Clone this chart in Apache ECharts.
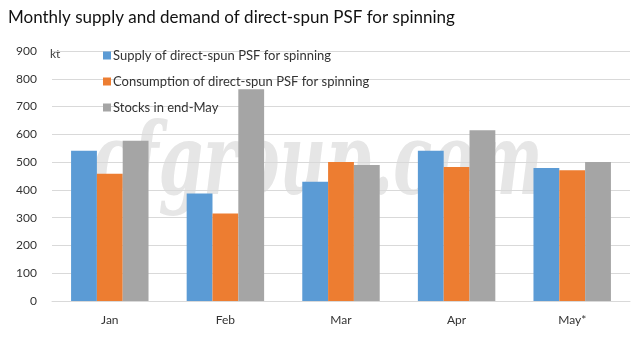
<!DOCTYPE html>
<html>
<head>
<meta charset="utf-8">
<script src="https://cdn.jsdelivr.net/npm/echarts@6/dist/echarts.min.js"></script>
<style>
html,body{margin:0;padding:0;background:#fff;}
#chart{width:643px;height:341px;}
</style>
</head>
<body>
<div id="chart"></div>
<script>
var categories = ['Jan', 'Feb', 'Mar', 'Apr', 'May*'];
var supply = [541, 387, 429, 541, 479];
var consumption = [458, 315, 500, 482, 471];
var stocks = [577, 762, 490, 615, 500];
var seriesNames = ['Supply of direct-spun PSF for spinning', 'Consumption of direct-spun PSF for spinning', 'Stocks in end-May'];
var yTicks = [0, 100, 200, 300, 400, 500, 600, 700, 800, 900];

var FONT = 'Lato, "Open Sans", sans-serif';
var chart = echarts.init(document.getElementById('chart'), null, {renderer: 'canvas'});
chart.setOption({
  animation: false,
  backgroundColor: '#ffffff',
  title: {
    text: 'Monthly supply and demand of direct-spun PSF for spinning',
    left: 3, top: 4,
    textStyle: {fontFamily: FONT, fontSize: 17, fontWeight: 'normal', color: '#111111'}
  },
  graphic: [
    {
      type: 'text', x: 92, y: 118, scaleX: 0.64, z: -1, silent: true,
      style: {text: 'cfgroup.com', font: 'italic bold 100px "DejaVu Serif", "Liberation Serif", serif', fill: '#e6e6e6'}
    },
    {
      type: 'text', left: 50, top: 48, silent: true,
      style: {text: 'kt', font: '12px ' + FONT, fill: '#404040'}
    }
  ],
  legend: {
    orient: 'vertical', left: 98, top: 44,
    itemWidth: 8, itemHeight: 8, itemGap: 13,
    icon: 'rect',
    textStyle: {fontFamily: FONT, fontSize: 13, color: '#333333', lineHeight: 13, padding: [0,0,0,-3]},
    data: seriesNames
  },
  grid: {left: 52, right: 13, top: 51, bottom: 40, containLabel: false},
  xAxis: {
    type: 'category', data: categories,
    axisLine: {show: true, lineStyle: {color: '#d9d9d9'}},
    axisTick: {show: false},
    axisLabel: {color: '#333333', fontFamily: FONT, fontSize: 12, margin: 13}
  },
  yAxis: {
    type: 'value', min: yTicks[0], max: yTicks[yTicks.length - 1], interval: 100,
    axisLine: {show: false}, axisTick: {show: false},
    splitLine: {lineStyle: {color: '#d9d9d9'}},
    axisLabel: {color: '#333333', fontFamily: FONT, fontSize: 12, margin: 15}
  },
  series: [
    {name: seriesNames[0], type: 'bar', data: supply, itemStyle: {color: '#5B9BD5'}, barGap: '0%', barCategoryGap: '33%', z: 2},
    {name: seriesNames[1], type: 'bar', data: consumption, itemStyle: {color: '#ED7D31'}, barGap: '0%', barCategoryGap: '33%', z: 2},
    {name: seriesNames[2], type: 'bar', data: stocks, itemStyle: {color: '#A5A5A5'}, barGap: '0%', barCategoryGap: '33%', z: 2}
  ]
});
</script>
</body>
</html>
